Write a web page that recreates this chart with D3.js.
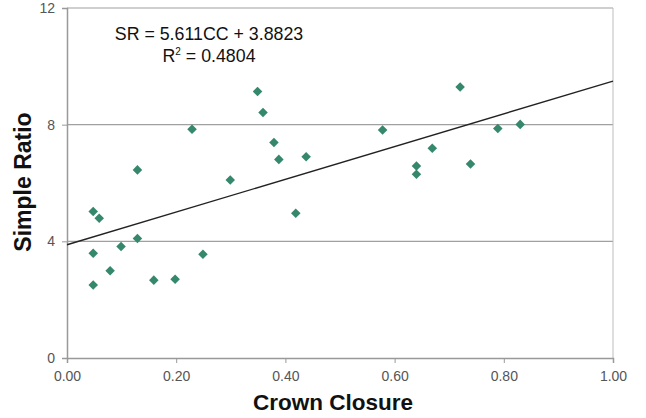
<!DOCTYPE html>
<html>
<head>
<meta charset="utf-8">
<script src="https://cdn.jsdelivr.net/npm/d3@7"></script>
<style>
  body { margin: 0; background: #fff; }
  svg { font-family: "Liberation Sans", Arial, sans-serif; }
</style>
</head>
<body>
<svg id="chart" width="646" height="418"></svg>
<script>
// crown closure (x) and simple ratio (y)
var crownClosure = [0.048, 0.059, 0.129, 0.129, 0.099, 0.048, 0.079, 0.048, 0.159, 0.198,
                    0.249, 0.349, 0.359, 0.229, 0.379, 0.388, 0.438, 0.299, 0.419,
                    0.720, 0.578, 0.789, 0.830, 0.669, 0.640, 0.640, 0.739];
var simpleRatio  = [5.02, 4.79, 6.45, 4.10, 3.82, 3.59, 2.99, 2.50, 2.67, 2.70,
                    3.56, 9.14, 8.42, 7.84, 7.39, 6.81, 6.90, 6.10, 4.96,
                    9.29, 7.82, 7.87, 8.01, 7.19, 6.58, 6.30, 6.65];
var xTicks = [0, 0.2, 0.4, 0.6, 0.8, 1.0];
var yTicks = [0, 4, 8, 12];
var slope = 5.611, intercept = 3.8823, r2 = 0.4804;

var margin = {top: 8, right: 33, bottom: 60, left: 67},
    width = 646 - margin.left - margin.right,
    height = 418 - margin.top - margin.bottom;

var x = d3.scaleLinear().domain([0, 1]).range([0, width]);
var y = d3.scaleLinear().domain([0, 12]).range([height, 0]);

var svg = d3.select("#chart")
  .append("g")
    .attr("transform", "translate(" + margin.left + "," + margin.top + ")");

// gridlines
svg.append("g").selectAll("line")
    .data(yTicks.filter(function(d) { return d > 0; }))
  .enter().append("line")
    .attr("x1", 0).attr("x2", width)
    .attr("y1", function(d) { return y(d); })
    .attr("y2", function(d) { return y(d); })
    .style("stroke", "#a0a0a0")
    .style("stroke-width", 1.2);

// right frame edge
svg.append("line")
    .attr("x1", width).attr("x2", width)
    .attr("y1", 0).attr("y2", height)
    .style("stroke", "#bdbdbd");

var xAxis = d3.axisBottom(x).tickValues(xTicks).tickFormat(d3.format(".2f")).tickSizeOuter(0).tickSize(5).tickPadding(8);
var yAxis = d3.axisLeft(y).tickValues(yTicks).tickFormat(d3.format("d")).tickSizeOuter(0).tickSize(5).tickPadding(7);

var gx = svg.append("g")
    .attr("transform", "translate(0," + height + ")")
    .call(xAxis);
var gy = svg.append("g").call(yAxis);

[gx, gy].forEach(function(g) {
  g.select(".domain").style("stroke", "#999").style("stroke-width", 1.5);
  g.selectAll(".tick line").style("stroke", "#999");
  g.selectAll(".tick text").style("fill", "#555").style("font-size", "14px");
});

// trend line
svg.append("line")
    .attr("x1", x(0)).attr("y1", y(intercept))
    .attr("x2", x(1)).attr("y2", y(slope + intercept))
    .style("stroke", "#222")
    .style("stroke-width", 1.4);

// points
var pts = crownClosure.map(function(c, i) { return {cc: c, sr: simpleRatio[i]}; });
svg.append("g").selectAll(".dot")
    .data(pts)
  .enter().append("path")
    .attr("class", "dot")
    .attr("d", d3.symbol().type(d3.symbolDiamond2).size(58))
    .attr("transform", function(d) { return "translate(" + x(d.cc) + "," + y(d.sr) + ")"; })
    .style("fill", "#35886b");

// equation
var eq = svg.append("g").attr("transform", "translate(" + (209 - margin.left) + ",0)")
    .style("font-size", "17.8px").style("fill", "#111");
eq.append("text")
    .attr("y", 40 - margin.top)
    .style("text-anchor", "middle")
    .text("SR = " + slope + "CC + " + intercept);
var r2t = eq.append("text")
    .attr("y", 62 - margin.top)
    .style("text-anchor", "middle");
r2t.append("tspan").text("R");
r2t.append("tspan").attr("dy", -7).style("font-size", "10px").text("2");
r2t.append("tspan").attr("dy", 7).text(" = " + r2);

// axis titles
svg.append("text")
    .attr("x", 333 - margin.left)
    .attr("y", 410 - margin.top)
    .style("text-anchor", "middle")
    .style("font-weight", "bold")
    .style("font-size", "22.5px")
    .style("fill", "#111")
    .text("Crown Closure");

svg.append("text")
    .attr("transform", "rotate(-90)")
    .attr("x", -(182 - margin.top))
    .attr("y", 31 - margin.left)
    .style("text-anchor", "middle")
    .style("font-weight", "bold")
    .style("font-size", "23px")
    .style("fill", "#111")
    .text("Simple Ratio");
</script>
</body>
</html>
